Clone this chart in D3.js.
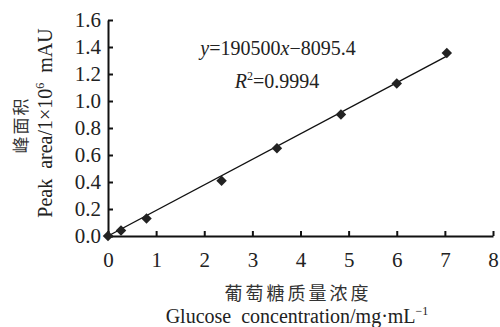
<!DOCTYPE html>
<html><head><meta charset="utf-8">
<script src="https://cdn.jsdelivr.net/npm/d3@7"></script>
<style>body{margin:0;background:#fff}svg{display:block}</style>
</head><body><svg id="c" width="500" height="327"></svg>
<script>
const concentration = [0, 0.27, 0.8, 2.36, 3.51, 4.84, 6.0, 7.04];
const peakArea = [0, 0.04, 0.13, 0.41, 0.65, 0.90, 1.13, 1.355];
const xTicks = [0,1,2,3,4,5,6,7,8];
const yTicks = [0,0.2,0.4,0.6,0.8,1.0,1.2,1.4,1.6];
const slope = 0.1905, intercept = -0.0080954;

const svg = d3.select("#c");
const serif = "'Liberation Serif','Times New Roman',serif";
const cjk = "'Noto Sans CJK SC',sans-serif";
const x = d3.scaleLinear().domain([0,8]).range([108,493]);
const y = d3.scaleLinear().domain([0,1.6]).range([236,20]);

const gx = svg.append("g").attr("transform","translate(0,236)")
  .call(d3.axisBottom(x).tickValues(xTicks).tickFormat(d3.format("d")).tickSizeInner(-5).tickSizeOuter(0).tickPadding(16));
const gy = svg.append("g").attr("transform","translate(108,0)")
  .call(d3.axisLeft(y).tickValues(yTicks).tickFormat(d3.format(".1f")).tickSizeInner(-5).tickSizeOuter(0).tickPadding(7));
[gx,gy].forEach(g=>{
  g.attr("font-size",21).attr("font-family",serif);
  g.selectAll("path").attr("stroke","#111").attr("stroke-width",2);
  g.selectAll("line").attr("stroke","#111").attr("stroke-width",2);
  g.selectAll("text").attr("font-family",serif).attr("font-size",21).attr("fill","#222");
});

svg.append("line")
  .attr("x1",x(0)).attr("y1",y(Math.max(0,intercept)))
  .attr("x2",x(7.04)).attr("y2",y(slope*7.04+intercept))
  .attr("stroke","#111").attr("stroke-width",1.4);

svg.selectAll("path.pt").data(concentration).enter().append("path")
  .attr("class","pt")
  .attr("d",d3.symbol().type(d3.symbolDiamond2).size(70))
  .attr("transform",(d,i)=>`translate(${x(d)},${y(peakArea[i])})`)
  .attr("fill","#222");

const eq = svg.append("text").attr("x",278).attr("y",55).attr("text-anchor","middle")
  .attr("font-family",serif).attr("font-size",20).attr("fill","#222");
eq.append("tspan").attr("font-style","italic").text("y");
eq.append("tspan").text("=190500");
eq.append("tspan").attr("font-style","italic").text("x");
eq.append("tspan").text("\u22128095.4");

const r2 = svg.append("text").attr("x",277).attr("y",88).attr("text-anchor","middle")
  .attr("font-family",serif).attr("font-size",20).attr("fill","#222");
r2.append("tspan").attr("font-style","italic").text("R");
r2.append("tspan").attr("font-size",12).attr("dy",-8).text("2");
r2.append("tspan").attr("dy",8).text("=0.9994");

svg.append("text").attr("transform","translate(27,125) rotate(-90)").attr("text-anchor","middle")
  .attr("font-family",cjk).attr("font-size",17).attr("fill","#333").attr("letter-spacing",2).text("峰面积");
const yl = svg.append("text").attr("transform","translate(52,123) rotate(-90)").attr("text-anchor","middle")
  .attr("font-family",serif).attr("font-size",20).attr("fill","#222").attr("xml:space","preserve");
yl.append("tspan").text("Peak  area/1\u00d710");
yl.append("tspan").attr("font-size",12).attr("dy",-8).text("6");
yl.append("tspan").attr("dy",8).text("  mAU");

svg.append("text").attr("x",298).attr("y",300).attr("text-anchor","middle")
  .attr("font-family",cjk).attr("font-size",18).attr("fill","#333").attr("letter-spacing",3).text("葡萄糖质量浓度");
const xl = svg.append("text").attr("x",297).attr("y",323).attr("text-anchor","middle")
  .attr("font-family",serif).attr("font-size",20).attr("fill","#222").attr("xml:space","preserve");
xl.append("tspan").text("Glucose  concentration/mg\u00b7mL");
xl.append("tspan").attr("font-size",12).attr("dy",-8).text("\u22121");
</script></body></html>
